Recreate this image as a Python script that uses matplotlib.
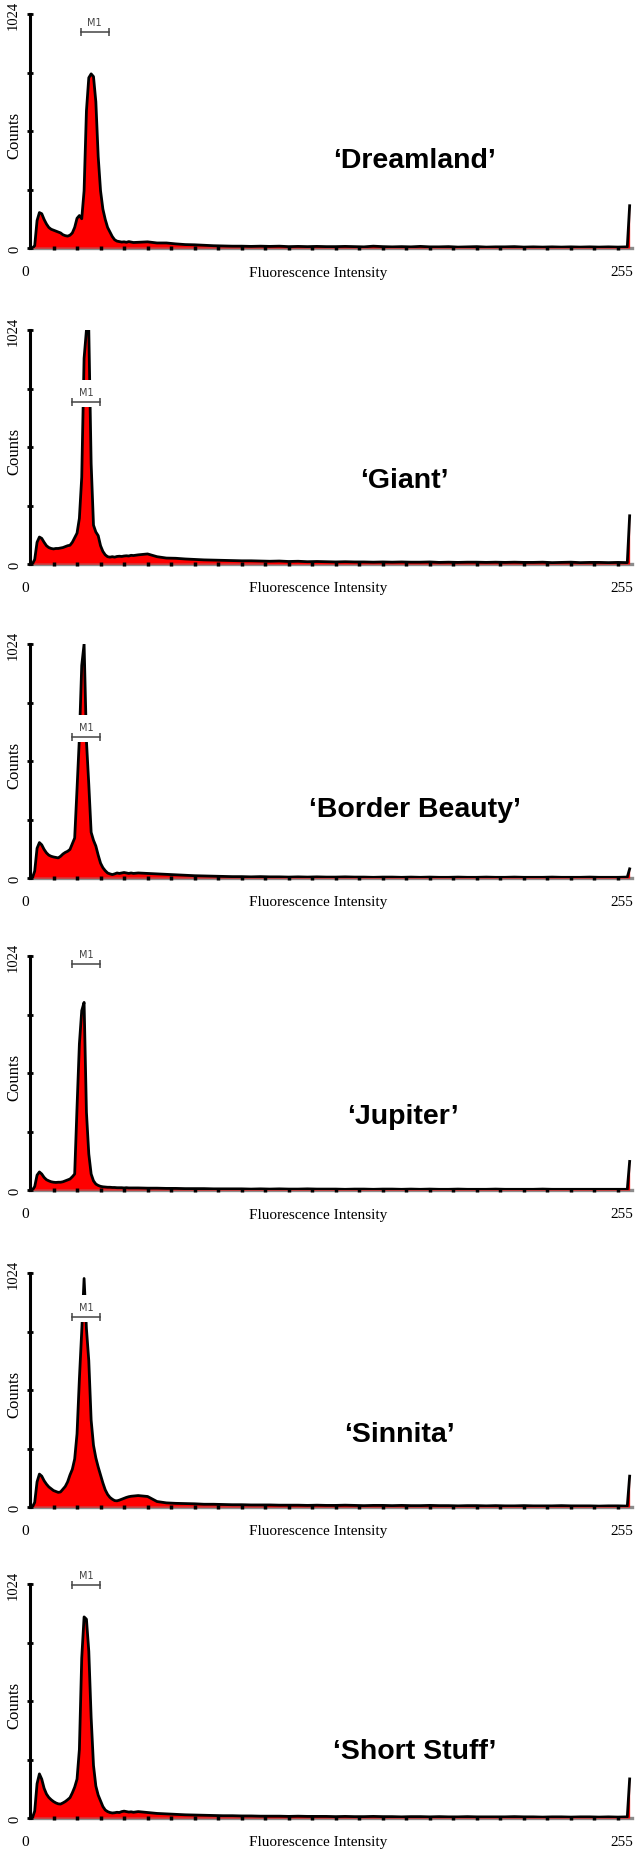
import matplotlib
matplotlib.use('Agg')
import matplotlib.pyplot as plt
from matplotlib.patches import Rectangle

# histogram channels: 0-44 one by one, then every 4th channel, then the last one
channels = list(range(0, 45)) + list(range(46, 255, 4)) + [255]

names = ['Dreamland', 'Giant', 'Border Beauty', 'Jupiter', 'Sinnita', 'Short Stuff']

dreamland = [0, 0, 10, 120, 155, 150, 125, 105, 90, 82, 78, 74, 70, 66, 58,
             54, 52, 56, 66, 90, 130, 142, 128, 250, 600, 745, 762, 750, 640, 400,
             250, 170, 125, 90, 70, 50, 36, 30, 28, 26, 27, 25, 28, 26, 24,
             25, 27, 22, 22, 18, 15, 14, 12, 10, 9, 8, 8, 7, 8, 7, 8, 6, 7, 6, 7,
             6, 6, 7, 6, 5, 8, 6, 5, 6, 5, 7, 5, 5, 6, 4, 5, 6, 4, 5, 5,
             6, 4, 5, 4, 5, 4, 5, 4, 5, 4, 5, 4, 5,
             185]
giant = [0, 0, 20, 95, 118, 112, 95, 80, 72, 68, 66, 68, 68, 70, 72,
         76, 80, 82, 95, 115, 135, 200, 380, 900, 1024, 1024, 440, 170, 140, 124,
         80, 55, 40, 32, 30, 32, 30, 33, 34, 33, 35, 36, 35, 38, 37,
         40, 44, 32, 26, 25, 22, 20, 18, 17, 16, 15, 14, 14, 13, 12, 13, 11, 12, 10, 11,
         10, 9, 10, 9, 9, 8, 9, 8, 9, 8, 8, 9, 7, 8, 7, 8, 8, 7, 8, 7,
         8, 7, 7, 8, 6, 7, 8, 6, 7, 7, 6, 7, 6,
         211]
border_beauty = [0, 0, 30, 130, 155, 145, 125, 110, 100, 95, 92, 90, 88, 95, 105,
                 112, 117, 125, 150, 175, 390, 613, 930, 1024, 600, 410, 200, 165, 140, 100,
                 65, 45, 32, 22, 18, 15, 18, 22, 20, 22, 24, 22, 20, 22, 20,
                 22, 20, 18, 16, 14, 12, 10, 9, 8, 7, 6, 6, 5, 6, 5, 5, 4, 5, 4, 5,
                 4, 4, 5, 4, 4, 3, 4, 4, 3, 4, 3, 4, 3, 3, 4, 3, 3, 4, 3, 3,
                 4, 3, 3, 3, 4, 3, 3, 3, 4, 3, 3, 3, 4,
                 40]
jupiter = [0, 0, 15, 65, 79, 70, 55, 45, 40, 36, 34, 33, 34, 34, 36,
           40, 44, 48, 58, 70, 362, 639, 785, 821, 340, 158, 70, 40, 26, 20,
           16, 14, 13, 12, 12, 11, 11, 10, 10, 10, 9, 10, 9, 9, 9,
           9, 8, 8, 7, 7, 6, 6, 6, 5, 5, 5, 5, 4, 5, 4, 5, 4, 4, 5, 4,
           4, 4, 3, 4, 4, 3, 4, 4, 3, 4, 3, 4, 3, 3, 4, 3, 3, 3, 4, 3,
           3, 3, 3, 4, 3, 3, 3, 3, 3, 3, 3, 3, 3,
           125]
sinnita = [0, 0, 20, 110, 144, 135, 115, 100, 88, 80, 72, 68, 64, 66, 78,
           90, 110, 140, 165, 210, 320, 560, 770, 1000, 780, 640, 380, 270, 215, 175,
           140, 105, 75, 55, 42, 34, 28, 27, 30, 34, 38, 42, 45, 47, 48,
           50, 46, 24, 18, 16, 15, 14, 12, 12, 11, 10, 10, 9, 9, 9, 8, 8, 8, 7, 8,
           7, 7, 8, 7, 6, 7, 7, 6, 7, 6, 6, 7, 6, 6, 5, 6, 6, 5, 6, 5,
           5, 6, 5, 5, 5, 6, 5, 5, 5, 4, 5, 5, 4,
           135]
short_stuff = [0, 0, 30, 150, 193, 170, 130, 105, 90, 80, 72, 66, 62, 61, 66,
               72, 80, 89, 110, 135, 170, 300, 700, 880, 870, 730, 440, 230, 140, 100,
               75, 50, 35, 28, 24, 22, 23, 25, 24, 28, 30, 28, 26, 27, 25,
               28, 24, 20, 18, 16, 14, 13, 12, 11, 10, 10, 9, 9, 8, 8, 8, 7, 8, 7, 7,
               7, 6, 7, 6, 6, 7, 6, 6, 5, 6, 6, 5, 6, 5, 5, 6, 5, 5, 5, 5,
               6, 5, 5, 4, 5, 5, 4, 5, 5, 4, 5, 4, 5,
               171]
panels = [dreamland, giant, border_beauty, jupiter, sinnita, short_stuff]

# M1 gate (start, end channel) and the count level where it is drawn
m1_gates = [(21.5, 33.6), (17.7, 29.8), (17.7, 29.8), (17.7, 29.8), (17.7, 29.8), (17.7, 29.8)]
m1_levels = [944, 710, 617, 989, 831, 1020]

# where the cultivar name sits (channel, counts)
title_x = [163.6, 159, 163.6, 158.5, 157, 163.6]
title_y = [385, 368, 302, 324, 320, 293]

serif = 'Liberation Serif'
W, H = 636.0, 1856.0
baselines = [249, 565, 879, 1191, 1508, 1819]

fig = plt.figure(figsize=(6.36, 18.56), dpi=100)

for i in range(6):
    counts = panels[i]
    ax = fig.add_axes([30 / W, 1 - baselines[i] / H, 602 / W, 234 / H])
    ax.set_xlim(0, 256)
    ax.set_ylim(0, 1024)
    ax.set_axisbelow(False)

    # baseline, histogram fill and outline
    ax.plot([0, 256], [0, 0], color='#8c8c8c', lw=2.4, zorder=1, clip_on=False)
    ax.fill_between(channels, counts, 0, color='#ff0000', lw=0, zorder=2)
    ax.plot([2, 100], [0, 0], color='#4fe0e6', lw=1.0, zorder=2.2)
    ax.plot(channels, counts, color='black', lw=2.0, zorder=3, solid_joinstyle='round')

    # M1 marker with its white box over the peak
    lo, hi = m1_gates[i]
    lev = m1_levels[i]
    ax.add_patch(Rectangle((lo - 1.5, lev - 22), hi - lo + 3, 117,
                           facecolor='white', edgecolor='none', zorder=4))
    ax.plot([lo, hi], [lev, lev], color='#444444', lw=1.1, zorder=5, clip_on=False)
    ax.plot([lo, hi], [lev, lev], ls='none', marker='|', ms=6, mew=1.1,
            color='#444444', zorder=5, clip_on=False)
    ax.annotate('M1', xy=((lo + hi) / 2, lev), xytext=(0, 10), textcoords='offset pixels',
                ha='center', va='center', fontsize=7, color='#444444', zorder=5,
                annotation_clip=False)

    ax.text(title_x[i], title_y[i], '\u2018' + names[i] + '\u2019', fontsize=20.5,
            fontweight='bold', family='Liberation Sans', ha='center', va='center', zorder=6)

    # axes look
    for s in ['top', 'right', 'bottom']:
        ax.spines[s].set_visible(False)
    ax.spines['left'].set_linewidth(2.2)
    ax.spines['left'].set_bounds(0, 1024)
    ax.set_xticks(range(10, 251, 10))
    ax.set_yticks([0, 256, 512, 768, 1024])
    ax.set_xticklabels([])
    ax.set_yticklabels([])
    ax.tick_params(axis='x', direction='inout', length=3, width=2.5, color='black')
    ax.tick_params(axis='y', direction='inout', length=4, width=2, color='black')

    # tick texts and axis titles
    ax.annotate('0', xy=(0, 0), xytext=(-5, -24), textcoords='offset pixels',
                ha='center', va='center', fontsize=11, family=serif, annotation_clip=False)
    ax.annotate('255', xy=(255, 0), xytext=(-8, -24), textcoords='offset pixels',
                ha='center', va='center', fontsize=11, family=serif, annotation_clip=False)
    ax.annotate('Fluorescence Intensity', xy=(122.4, 0), xytext=(0, -24),
                textcoords='offset pixels', ha='center', va='center', fontsize=11,
                family=serif, annotation_clip=False)
    ax.annotate('0', xy=(0, 0), xytext=(-15, 0), textcoords='offset pixels', rotation=90,
                ha='center', va='center', fontsize=10.5, family=serif, annotation_clip=False)
    ax.annotate('1024', xy=(0, 1024), xytext=(-17, 0), textcoords='offset pixels', rotation=90,
                ha='center', va='center', fontsize=10.5, family=serif, annotation_clip=False)
    ax.annotate('Counts', xy=(0, 512), xytext=(-16, -3), textcoords='offset pixels', rotation=90,
                ha='center', va='center', fontsize=12, family=serif, annotation_clip=False)

fig.savefig('out.png', dpi=100)
